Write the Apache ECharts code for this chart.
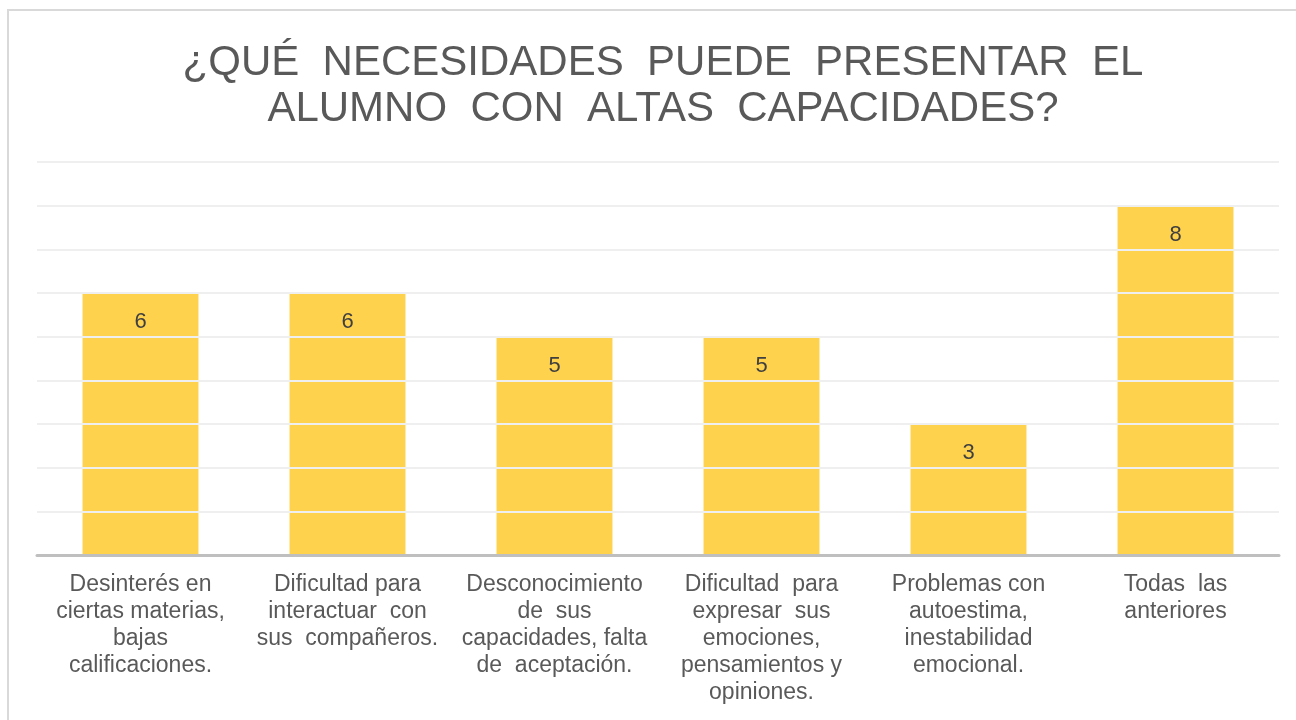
<!DOCTYPE html>
<html>
<head>
<meta charset="utf-8">
<script src="https://cdn.jsdelivr.net/npm/echarts@6/dist/echarts.min.js"></script>
<style>html,body{margin:0;padding:0;background:#fff;}#c{width:1296px;height:720px;}</style>
</head>
<body>
<div id="c"></div>
<script>
var titleText = '¿QUÉ  NECESIDADES  PUEDE  PRESENTAR  EL\nALUMNO  CON  ALTAS  CAPACIDADES?';
var categories = [
  'Desinterés en\nciertas materias,\nbajas\ncalificaciones.',
  'Dificultad para\ninteractuar  con\nsus  compañeros.',
  'Desconocimiento\nde  sus\ncapacidades, falta\nde  aceptación.',
  'Dificultad  para\nexpresar  sus\nemociones,\npensamientos y\nopiniones.',
  'Problemas con\nautoestima,\ninestabilidad\nemocional.',
  'Todas  las\nanteriores'
];
var values = [6, 6, 5, 5, 3, 8];

var chart = echarts.init(document.getElementById('c'), null, {renderer: 'canvas'});
chart.setOption({
  animation: false,
  backgroundColor: '#ffffff',
  graphic: [{
    type: 'rect',
    shape: {x: 8, y: 10, width: 1300, height: 730},
    style: {fill: 'none', stroke: '#d9d9d9', lineWidth: 2},
    silent: true, z: -10
  }],
  title: {
    text: titleText,
    left: 658, top: 35, textAlign: 'center',
    textStyle: {
      fontFamily: 'Liberation Sans, Arial, sans-serif',
      fontSize: 42, fontWeight: 'normal', color: '#595959', lineHeight: 46
    }
  },
  grid: {left: 37, right: 17, top: 162, bottom: 165, containLabel: false},
  xAxis: {
    type: 'category',
    data: categories,
    axisLine: {lineStyle: {color: '#bfbfbf', width: 3}},
    axisTick: {show: false},
    axisLabel: {
      interval: 0, margin: 16,
      fontFamily: 'Liberation Sans, Arial, sans-serif',
      fontSize: 23, lineHeight: 27, color: '#595959', align: 'center'
    }
  },
  yAxis: {
    type: 'value', min: 0, max: 9, interval: 1,
    axisLabel: {show: false},
    axisLine: {show: false},
    axisTick: {show: false},
    splitLine: {lineStyle: {color: '#efefef', width: 2}}
  },
  series: [{
    type: 'bar',
    data: values,
    z: -1,
    barWidth: '56%',
    itemStyle: {color: '#FFD24D'},
    label: {
      show: true, position: 'insideTop', distance: 18,
      fontFamily: 'Liberation Sans, Arial, sans-serif',
      fontSize: 22, color: '#404040'
    }
  }]
});
</script>
</body>
</html>
